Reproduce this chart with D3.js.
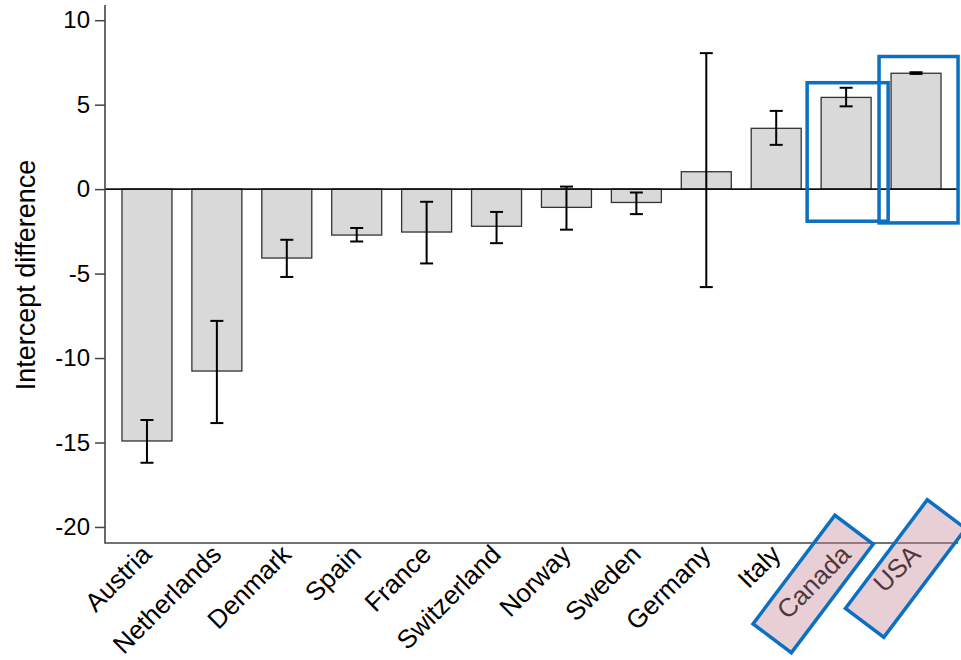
<!DOCTYPE html>
<html><head><meta charset="utf-8">
<script src="https://cdn.jsdelivr.net/npm/d3@7"></script>
<style>body{margin:0;background:#fff}svg{display:block}text{font-family:"Liberation Sans",Arial,sans-serif}</style>
</head><body>
<svg id="c" width="961" height="660"></svg>
<script>
const countries = ["Austria","Netherlands","Denmark","Spain","France","Switzerland","Norway","Sweden","Germany","Italy","Canada","USA"];
const values    = [-14.91,-10.77,-4.08,-2.72,-2.54,-2.2,-1.08,-0.79,1.03,3.6,5.43,6.86];
const errLow    = [-16.2,-13.85,-5.2,-3.1,-4.4,-3.2,-2.4,-1.48,-5.8,2.62,4.9,6.82];
const errHigh   = [-13.67,-7.8,-3.0,-2.3,-0.75,-1.35,0.15,-0.2,8.05,4.63,6.0,6.92];
const yTicks    = [10,5,0,-5,-10,-15,-20];
const highlighted = ["Canada","USA"];
// annotation boxes: value range of bar box, and label box offset
const barBoxTop = {Canada:6.3, USA:7.85};
const barBoxBottom = {Canada:-1.9, USA:-2.0};
const barBoxPadL = {Canada:14, USA:12};
const barBoxPadR = {Canada:17, USA:17};
const labelBoxDx = {Canada:-33, USA:-10.5};
const labelBoxY  = {Canada:584, USA:568.5};

const svg = d3.select("#c");
const y = d3.scaleLinear().domain([-20.95,10.9]).range([543,5]);
const x = d3.scaleBand().domain(countries).range([112,951]).paddingInner(0.285).paddingOuter(0.1425);
const axisX = 105, axisRight = 958;

// bars
svg.append("g").selectAll("rect").data(countries).join("rect")
  .attr("x", d => x(d))
  .attr("width", x.bandwidth())
  .attr("y", (d,i) => y(Math.max(0, values[i])))
  .attr("height", (d,i) => Math.abs(y(values[i]) - y(0)))
  .attr("fill", "#d9d9d9").attr("stroke", "#333").attr("stroke-width", 1.3);

// zero line
svg.append("line").attr("x1", axisX).attr("x2", axisRight).attr("y1", y(0)).attr("y2", y(0))
  .attr("stroke", "#111").attr("stroke-width", 1.6);

// error bars
const eb = svg.append("g").attr("stroke", "#000").attr("stroke-width", 2);
countries.forEach((c,i) => {
  const cx = x(c) + x.bandwidth()/2;
  eb.append("line").attr("x1", cx).attr("x2", cx).attr("y1", y(errLow[i])).attr("y2", y(errHigh[i]));
  [errLow[i], errHigh[i]].forEach(v => eb.append("line").attr("x1", cx-6.5).attr("x2", cx+6.5).attr("y1", y(v)).attr("y2", y(v)));
});

// y axis
const yAxis = svg.append("g").attr("transform", `translate(${axisX},0)`)
  .call(d3.axisLeft(y).tickValues(yTicks).tickSize(10).tickPadding(5).tickFormat(d3.format("d")));
yAxis.select(".domain").remove();
yAxis.selectAll(".tick line").attr("stroke", "#444").attr("stroke-width", 1.5);
yAxis.selectAll(".tick text").attr("font-size", 24).attr("fill", "#000")
  .attr("font-family", "'Liberation Sans', Arial, sans-serif").text(d => d < 0 ? "-" + Math.abs(d) : d);
// axis lines
svg.append("path").attr("d", `M${axisX},5V543H${axisRight}`).attr("fill", "none").attr("stroke", "#444").attr("stroke-width", 1.6);

// x labels
const xl = svg.append("g");
countries.forEach(c => {
  const cx = x(c) + x.bandwidth()/2;
  xl.append("text").attr("transform", `translate(${cx+6},${556}) rotate(-45)`)
    .attr("text-anchor", "end").attr("font-size", 26).attr("fill", "#000").text(c);
});

// y title
svg.append("text").attr("transform", "translate(35,275) rotate(-90)").attr("text-anchor", "middle")
  .attr("font-size", 27).attr("fill", "#000").text("Intercept difference");

// annotations
highlighted.forEach(c => {
  const bx = x(c), bw = x.bandwidth();
  svg.append("rect").attr("x", bx - barBoxPadL[c]).attr("width", bw + barBoxPadL[c] + barBoxPadR[c])
    .attr("y", y(barBoxTop[c])).attr("height", y(barBoxBottom[c]) - y(barBoxTop[c]))
    .attr("fill", "none").attr("stroke", "#0b6fc2").attr("stroke-width", 3.5);
  const cx = bx + bw/2 + labelBoxDx[c];
  svg.append("rect").attr("transform", `translate(${cx},${labelBoxY[c]}) rotate(-53)`)
    .attr("x", -68).attr("y", -24).attr("width", 136).attr("height", 48)
    .attr("fill", "rgba(195,135,150,0.4)").attr("stroke", "#0b6fc2").attr("stroke-width", 3.5);
});
</script>
</body></html>
